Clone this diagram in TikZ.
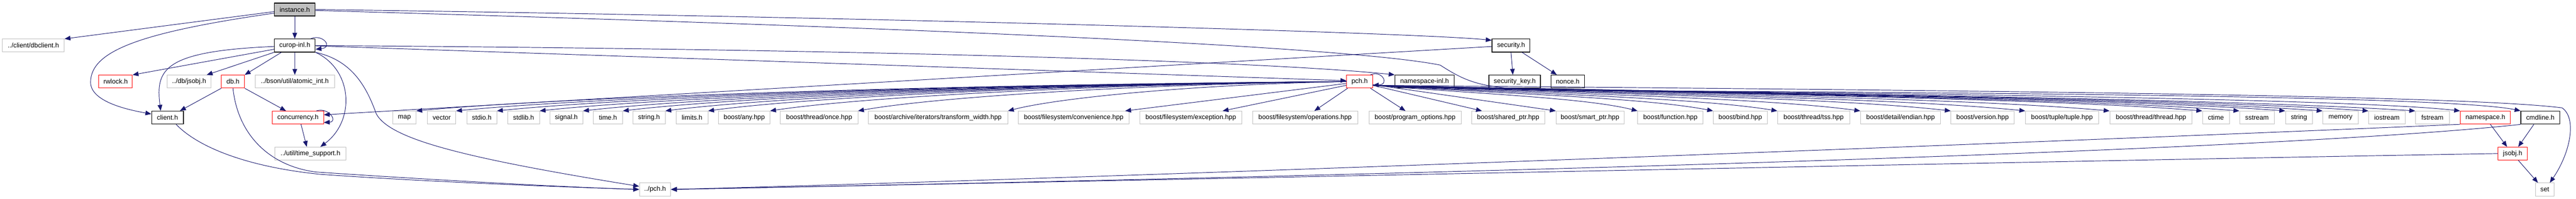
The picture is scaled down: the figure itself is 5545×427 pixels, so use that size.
\documentclass[tikz,border=0pt]{standalone}
\usepackage{fontspec}
\setmainfont{Liberation Sans}
\usetikzlibrary{arrows.meta,calc}
\definecolor{edgec}{HTML}{191970}
\definecolor{greyb}{HTML}{BFBFBF}
\begin{document}
\begin{tikzpicture}[x=0.75pt,y=-0.75pt,
  nb/.style={rectangle,inner sep=0pt,minimum height=20.85pt,line width=0.8pt,text=black,
    font=\fontsize{10.7pt}{12pt}\selectfont},
  gb/.style={nb,draw=greyb},
  rb/.style={nb,draw=red},
  kb/.style={nb,draw=black,line width=1.1pt},
  bw/.style={minimum width=#1*0.75pt},
  dep/.style={draw=edgec,line width=0.8pt,-{Triangle[length=9.5pt,width=7.5pt]}}]
\useasboundingbox (0,0) rectangle (5545,427);
\fill[white] (0,0) rectangle (5545,427);
% row 0
\node[kb,fill=greyb,bw=88] (inst) at (634.5,20.5) {instance.h};
% row 1
\node[gb,bw=133] (dbclient) at (71.9,98) {../client/dbclient.h};
\node[kb,bw=88] (curop) at (634.5,98) {curop-inl.h};
\node[kb,bw=81.7] (security) at (3252.5,98) {security.h};
% row 2
\node[rb,bw=72] (rwlock) at (248.9,175.5) {rwlock.h};
\node[gb,bw=94.6] (jsobjdb) at (407.1,175.5) {../db/jsobj.h};
\node[rb,bw=49.5] (db) at (501.5,175.5) {db.h};
\node[gb,bw=171] (atomic) at (634.6,175.5) {../bson/util/atomic\_int.h};
\node[rb,bw=55.8] (pch) at (2926.6,175.5) {pch.h};
\node[kb,bw=127.6] (nsinl) at (3066.5,175.5) {namespace-inl.h};
\node[kb,bw=111] (seckey) at (3260.5,175.5) {security\_key.h};
\node[kb,bw=72.3] (nonce) at (3374.6,175.5) {nonce.h};
% row 3
\node[kb,bw=68.3] (client) at (360.5,253) {client.h};
\node[rb,bw=110.3] (concur) at (641.3,253) {concurrency.h};
\node[gb,bw=50] (map) at (870.5,253) {map};
\node[gb,bw=61] (vector) at (950.7,253) {vector};
\node[gb,bw=64.3] (stdio) at (1037,253) {stdio.h};
\node[gb,bw=68.3] (stdlib) at (1127,253) {stdlib.h};
\node[gb,bw=71] (signal) at (1219,253) {signal.h};
\node[gb,bw=63] (timeh) at (1308.7,253) {time.h};
\node[gb,bw=69.2] (stringh) at (1397.1,253) {string.h};
\node[gb,bw=68] (limits) at (1489.8,253) {limits.h};
\node[gb,bw=110.2] (any) at (1602,253) {boost/any.hpp};
\node[gb,bw=166.5] (once) at (1763.2,253) {boost/thread/once.hpp};
\node[gb,bw=300] (transform) at (2019.2,253) {boost/archive/iterators/transform\_width.hpp};
\node[gb,bw=238.3] (convenience) at (2311.2,253) {boost/filesystem/convenience.hpp};
\node[gb,bw=220] (exception) at (2563.2,253) {boost/filesystem/exception.hpp};
\node[gb,bw=226.3] (operations) at (2809.2,253) {boost/filesystem/operations.hpp};
\node[gb,bw=198.2] (progopt) at (3046,253) {boost/program\_options.hpp};
\node[gb,bw=157.2] (shared) at (3246.4,253) {boost/shared\_ptr.hpp};
\node[gb,bw=146] (smart) at (3422.5,253) {boost/smart\_ptr.hpp};
\node[gb,bw=140.2] (function) at (3595.5,253) {boost/function.hpp};
\node[gb,bw=116] (bind) at (3746,253) {boost/bind.hpp};
\node[gb,bw=155] (tss) at (3903.8,253) {boost/thread/tss.hpp};
\node[gb,bw=172.3] (endian) at (4091,253) {boost/detail/endian.hpp};
\node[gb,bw=136.2] (version) at (4267.6,253) {boost/version.hpp};
\node[gb,bw=157] (tuple) at (4438.4,253) {boost/tuple/tuple.hpp};
\node[gb,bw=177.2] (thread) at (4630.1,253) {boost/thread/thread.hpp};
\node[gb,bw=57.6] (ctime) at (4769.8,253) {ctime};
\node[gb,bw=74.6] (sstream) at (4858.2,253) {sstream};
\node[gb,bw=58] (string) at (4948.6,253) {string};
\node[gb,bw=76] (memory) at (5037.9,253) {memory};
\node[gb,bw=78.5] (iostream) at (5137.9,253) {iostream};
\node[gb,bw=72.8] (fstream) at (5235.8,253) {fstream};
\node[rb,bw=108] (namespaceh) at (5349.9,253) {namespace.h};
\node[kb,bw=84] (cmdline) at (5468.2,253) {cmdline.h};
% row 4
\node[gb,bw=153.6] (timesup) at (668.3,330.3) {../util/time\_support.h};
\node[rb,bw=63] (jsobj) at (5408.6,330.3) {jsobj.h};
% row 5
\node[gb,bw=67.4] (pchdot) at (1410,407.5) {../pch.h};
\node[gb,bw=40.6] (set) at (5477.8,407.5) {set};

% instance.h
\draw[dep] (inst) -- (curop);
\draw[dep] ([yshift=-3.4pt]inst.west) -- (dbclient.north east);
\draw[dep] ([yshift=-5.9pt]inst.west) .. controls (300,70) and (195,110) .. (195,177)
  .. controls (195,220) and (280,237) .. ([yshift=5.85pt]client.west);
\draw[dep] (inst.east) .. controls (1800,35) and (3050,70) .. ([yshift=-2.5pt]security.north west);
\draw[dep] ([yshift=-1.5pt]inst.east) .. controls (2000,60) and (2900,100) .. (3100,140)
  .. controls (3170,185) and (3200,193) .. (3400,195)
  .. controls (4600,200) and (5300,212) .. (cmdline.north west);

% curop-inl.h
\draw[dep] ([xshift=-8pt]curop.north east) .. controls (695,72) and (718,102) .. ([yshift=-6pt]curop.east);
\draw[dep] ([yshift=-6pt]curop.west) -- (rwlock.north east);
\draw[dep] (curop.south west) -- ([xshift=-7.5pt]jsobjdb.north east);
\draw[dep] ([xshift=12pt]curop.south west) -- (db.north east);
\draw[dep] (curop) -- (atomic);
\draw[dep] ([yshift=-1.5pt]curop.west) .. controls (350,110) and (335,150) .. ([xshift=-11pt]client.north);
\draw[dep] (curop.south east) .. controls (760,150) and (765,260) .. ([xshift=16pt]timesup.north);
\draw[dep] (curop.south east) .. controls (760,130) and (790,190) .. (810,245)
  .. controls (840,300) and (1000,340) .. ([yshift=5pt]pchdot.west);
\draw[dep] ([yshift=-0.5pt]curop.east) -- ([yshift=1.5pt]pch.west);
\draw[dep] (curop.east) .. controls (1800,105) and (2700,130) .. (nsinl.north west);

% db.h
\draw[dep] (db.south west) -- ([xshift=-6pt]client.north east);
\draw[dep] (db.south east) -- ([xshift=22.5pt]concur.north west);
\draw[dep] (db.south) .. controls (512,290) and (580,357) .. (680,370)
  .. controls (900,385) and (1200,402) .. (pchdot.west);

% client.h
\draw[dep] ([xshift=14pt]client.south) .. controls (430,320) and (540,360) .. (690,375)
  .. controls (900,390) and (1200,402) .. (pchdot.west);

% concurrency.h
\draw[dep] ([xshift=-12pt]concur.north east) .. controls (708,230) and (728,262) .. ([yshift=-7.9pt]concur.east);
\draw[dep] ([xshift=5pt]concur.south) -- ([xshift=-6pt]timesup.north);

% security.h
\draw[dep] ([yshift=-1.5pt]security.west) -- ([yshift=4.5pt]concur.east);
\draw[dep] (security.south) -- ([xshift=-3pt]seckey.north);
\draw[dep] ([xshift=-13.4pt]security.south east) -- ([xshift=10pt]nonce.north west);

% pch.h
\draw[dep] ([xshift=-4pt]pch.north east) .. controls (2975,150) and (2992,182) .. ([yshift=5pt]pch.south east);
\foreach \tg in {map,vector,stdio,stdlib,signal,timeh,stringh,limits,any,once,transform}{
  \draw[dep] let \p1=(pch.west), \p2=(\tg.north east) in
    (\p1) .. controls ({0.55*\x1+0.45*\x2},{0.9*\y1+0.1*\y2}) and ({0.15*\x1+0.85*\x2},{0.45*\y1+0.55*\y2}) .. (\p2);
}
\draw[dep] ([yshift=-3pt]pch.west) -- ([xshift=-6.7pt]convenience.north east);
\draw[dep] ([yshift=-6pt]pch.west) -- ([xshift=-31.5pt]exception.north east);
\draw[dep] ([xshift=2pt]pch.south west) -- ([xshift=15pt]operations.north);
\draw[dep] ([xshift=-3.75pt]pch.south east) -- ([xshift=-15.5pt]progopt.north);
\draw[dep] ([yshift=-6pt]pch.east) -- ([xshift=17pt]shared.north west);
\draw[dep] ([yshift=-5pt]pch.east) -- (smart.north west);
\foreach \tg in {function,bind,tss,endian,version,tuple,thread,ctime,sstream,string,memory,iostream,fstream}{
  \draw[dep] let \p1=([yshift=-6pt]pch.east), \p2=(\tg.north west) in
    (\p1) .. controls ({0.6*\x1+0.4*\x2},{\y1-14pt}) and ({0.2*\x1+0.8*\x2},{\y1-20pt}) .. (\p2);
}
\draw[dep] ([yshift=-6pt]pch.east) .. controls (4300,195) and (5300,205) .. (5515,232)
  .. controls (5548,255) and (5532,330) .. ([xshift=-7.5pt]set.north east);

% namespace-inl.h
\draw[dep] (nsinl.south east) .. controls (3400,195) and (5000,205) .. (namespaceh.north west);

% right group
\draw[dep] ([xshift=8pt]namespaceh.south) -- ([xshift=-9pt]jsobj.north);
\draw[dep] ([xshift=-10.5pt]cmdline.south) -- ([xshift=9pt]jsobj.north);
\draw[dep] ([xshift=9pt]jsobj.south) -- ([xshift=4.5pt]set.north west);
\draw[dep] (namespaceh.south west) .. controls (4800,290) and (2500,380) .. (pchdot.east);
\draw[dep] (cmdline.south west) .. controls (4800,335) and (2600,385) .. (pchdot.east);
\draw[dep] (jsobj.west) .. controls (4500,345) and (2600,385) .. (pchdot.east);
\end{tikzpicture}
\end{document}
